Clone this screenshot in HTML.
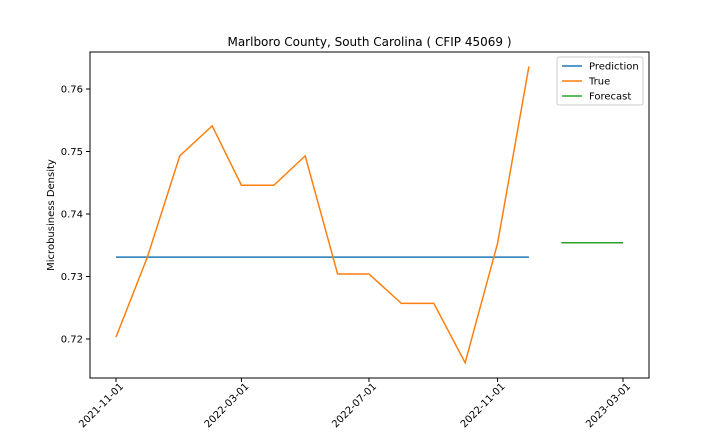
<!DOCTYPE html>
<html><head><meta charset="utf-8"><style>
html,body{margin:0;padding:0;background:#fff;}
svg{display:block;font-family:"DejaVu Sans","Liberation Sans",sans-serif;}
</style></head><body>
<svg id="chart" width="720" height="432" viewBox="0 0 720 432"></svg>
<script>
const trueDates = ["2021-11-01","2021-12-01","2022-01-01","2022-02-01","2022-03-01","2022-04-01","2022-05-01","2022-06-01","2022-07-01","2022-08-01","2022-09-01","2022-10-01","2022-11-01","2022-12-01"];
const trueValues = [0.7203,0.7331,0.7493,0.7541,0.7446,0.7446,0.7493,0.7304,0.7304,0.7257,0.7257,0.7162,0.7353,0.7636];
const predValues = [0.7331,0.7331,0.7331,0.7331,0.7331,0.7331,0.7331,0.7331,0.7331,0.7331,0.7331,0.7331,0.7331,0.7331];
const forecastDates = ["2023-01-01","2023-02-01","2023-03-01"];
const forecastValues = [0.7354,0.7354,0.7354];
const xTicks = ["2021-11-01","2022-03-01","2022-07-01","2022-11-01","2023-03-01"];
const yTicks = [0.72,0.73,0.74,0.75,0.76];

const NS="http://www.w3.org/2000/svg";
const svg=document.getElementById('chart');
const L=90,R=649,T=52,B=378;
const d0=Date.parse("2021-11-01"),d1=Date.parse("2023-03-01");
function xs(d){return 116+(Date.parse(d)-d0)/(d1-d0)*(623-116);}
function ys(v){return 339-(v-0.72)/0.04*250;}
function mk(tag,attrs,parent){const e=document.createElementNS(NS,tag);for(const k in attrs)e.setAttribute(k,attrs[k]);(parent||svg).appendChild(e);return e;}

const frame=mk('rect',{x:L,y:T,width:R-L,height:B-T,fill:'none',stroke:'#000','stroke-width':1});



const title=mk('text',{x:(L+R)/2,y:46,'text-anchor':'middle','font-size':12});
title.textContent="Marlboro County, South Carolina ( CFIP 45069 )";



const yl=mk('text',{x:54,y:215,'text-anchor':'middle','font-size':10,transform:'rotate(-90 54 215)'});
yl.textContent="Microbusiness Density";



yTicks.forEach(v=>{
  const y=ys(v);
  const t=mk('line',{x1:L-4,x2:L,y1:y,y2:y,stroke:'#000'});
  
  
  const tx=mk('text',{x:L-7,y:y+3.5,'text-anchor':'end','font-size':10});
  tx.textContent=v.toFixed(2);
  
  
});
xTicks.forEach(d=>{
  const x=xs(d);
  const t=mk('line',{x1:x,x2:x,y1:B,y2:B+4,stroke:'#000'});
  
  
  const ax=x+8, ay=B+9;
  const tx=mk('text',{x:ax,y:ay,'text-anchor':'end','font-size':10,transform:`rotate(-45 ${ax} ${ay})`});
  tx.textContent=d;
  
  
});

function line(dates,vals,color,name){
  const p=mk('polyline',{points:dates.map((d,i)=>xs(d)+','+ys(vals[i])).join(' '),fill:'none',stroke:color,'stroke-width':1.5});
  
  
}
line(trueDates,predValues,'#1f77b4','prediction-line');
line(trueDates,trueValues,'#ff7f0e','true-line');
line(forecastDates,forecastValues,'#2ca02c','forecast-line');

const lg=mk('g',{});


mk('rect',{x:557,y:57,width:86,height:48,fill:'#fff',stroke:'#ccc',rx:2},lg);
[['Prediction','#1f77b4'],['True','#ff7f0e'],['Forecast','#2ca02c']].forEach((e,i)=>{
  const y=66+i*15;
  const g=mk('g',{},lg);
  
  
  mk('line',{x1:562,x2:582,y1:y,y2:y,stroke:e[1],'stroke-width':1.5},g);
  const t=mk('text',{x:589,y:y+3.5,'font-size':10},g);
  t.textContent=e[0];
});
</script>
</body></html>
